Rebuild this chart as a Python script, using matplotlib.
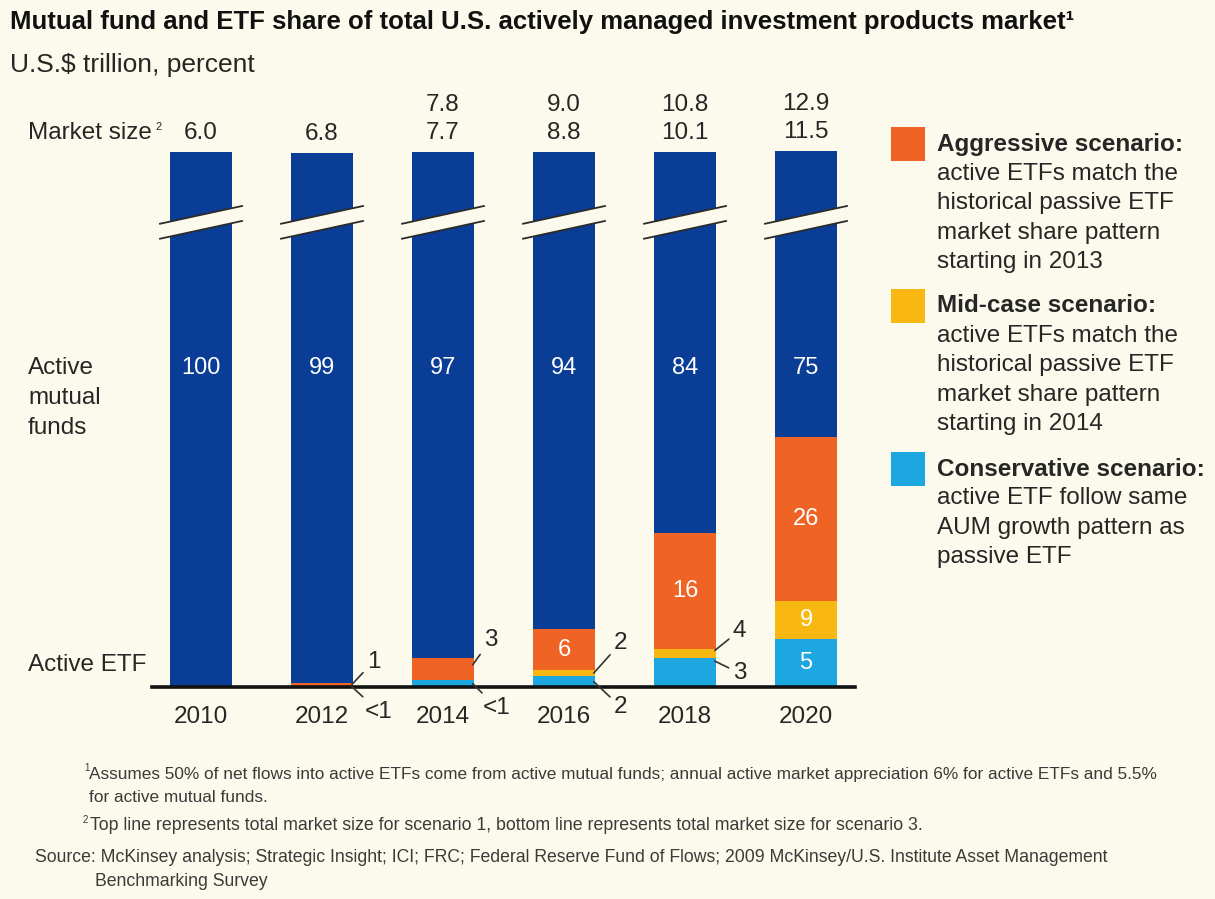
import matplotlib
matplotlib.use("Agg")
import matplotlib.pyplot as plt
import numpy as np
from matplotlib.patches import Polygon, Rectangle

# ──────────────────────────────────────────────────────────────
# Data (percent of market, U.S.$ trillion)
# ──────────────────────────────────────────────────────────────
years = ["2010", "2012", "2014", "2016", "2018", "2020"]
active_mf = [100, 99, 97, 94, 84, 75]

# ETF share per scenario, each bar drawn from zero
etf_aggressive = [0, 0.4, 3, 6, 16, 26]
etf_midcase = [0, 0, 0, 1.8, 4, 9]
etf_conservative = [0, 0.1, 0.7, 1.1, 3, 5]

aggressive_labels = ["", "1", "3", "6", "16", "26"]
midcase_labels = ["", "", "", "2", "4", "9"]
conservative_labels = ["", "<1", "<1", "2", "3", "5"]

market_size_s1 = [np.nan, np.nan, 7.8, 9.0, 10.8, 12.9]
market_size_s3 = [6.0, 6.8, 7.7, 8.8, 10.1, 11.5]

NAVY = "#0a3d95"
ORANGE = "#ef6424"
YELLOW = "#f9b712"
CYAN = "#1ca7e1"
BG = "#fcfaec"
INK = "#262626"

SANS = ["Liberation Sans", "DejaVu Sans"]
NARROW = ["Liberation Sans Narrow", "Liberation Sans", "DejaVu Sans"]

# broken axis: linear below BREAK, squeezed above
BREAK = 51.0
SQUEEZE = 0.096
PX_PER_UNIT = 9.6


def fwd(v):
    v = np.asarray(v, dtype=float)
    return np.where(v <= BREAK, v, BREAK + (v - BREAK) * SQUEEZE)


def inv(d):
    d = np.asarray(d, dtype=float)
    return np.where(d <= BREAK, d, BREAK + (d - BREAK) / SQUEEZE)


W, H = 1215, 899
fig = plt.figure(figsize=(W / 100, H / 100), dpi=100, facecolor=BG)

# overlay in pixel coordinates for titles, legend, notes
ov = fig.add_axes([0, 0, 1, 1])
ov.set_xlim(0, W)
ov.set_ylim(H, 0)
ov.axis("off")
ov.set_facecolor("none")

# main chart axes
base_px, top_px, left_px, right_px = 687, 100, 152, 855
ax = fig.add_axes([left_px / W, (H - base_px) / H,
                   (right_px - left_px) / W, (base_px - top_px) / H])
ax.set_facecolor("none")
ax.set_yscale("function", functions=(fwd, inv))
ax.set_xlim(-0.405, 5.405)
ax.set_ylim(0, float(inv((base_px - top_px) / PX_PER_UNIT)))

x = np.arange(len(years))
bw = 0.512
ax.bar(x, etf_aggressive, bw, color=ORANGE, zorder=2)
ax.bar(x, etf_midcase, bw, color=YELLOW, zorder=3)
ax.bar(x, etf_conservative, bw, color=CYAN, zorder=4)
ax.bar(x, active_mf, bw, bottom=etf_aggressive, color=NAVY, zorder=2)

for s in ["left", "right", "top"]:
    ax.spines[s].set_visible(False)
ax.spines["bottom"].set_linewidth(2.6)
ax.spines["bottom"].set_color("#111111")
ax.spines["bottom"].set_zorder(6)
ax.set_yticks([])
ax.set_xticks(x, years, fontsize=17.5, family=SANS, color=INK)
ax.tick_params(axis="x", length=0, pad=21.5)
plt.setp(ax.get_xticklabels(), va="center")

# break marks across the navy bars
band_c, band_h, slope = 48.4, 0.78, 2.73
ext = bw / 2 + 0.09
for xi in x:
    xs = np.array([xi - ext, xi + ext])
    up = band_c + band_h + slope * (xs - xi)
    lo = band_c - band_h + slope * (xs - xi)
    ax.add_patch(Polygon([[xs[0], lo[0]], [xs[1], lo[1]], [xs[1], up[1]], [xs[0], up[0]]],
                         closed=True, facecolor=BG, edgecolor="none", zorder=7))
    ax.plot(xs, up, color="#2b2b2b", lw=1.3, zorder=8, solid_capstyle="butt")
    ax.plot(xs, lo, color="#2b2b2b", lw=1.3, zorder=8, solid_capstyle="butt")

# active mutual fund shares
for xi, v in zip(x, active_mf):
    ax.text(xi, 33.2, str(v), ha="center", va="center", color="white",
            fontsize=17, family=SANS, zorder=9)

# market size above bars
tops = np.array(active_mf) + np.array(etf_aggressive)
for xi, t, s1, s3 in zip(x, tops, market_size_s1, market_size_s3):
    ax.annotate(f"{s3:.1f}", (xi, t), xytext=(0, 19), textcoords="offset pixels",
                ha="center", va="center", fontsize=17.5, family=SANS, color=INK,
                annotation_clip=False)
    if not np.isnan(s1):
        ax.annotate(f"{s1:.1f}", (xi, t), xytext=(0, 47), textcoords="offset pixels",
                    ha="center", va="center", fontsize=17.5, family=SANS, color=INK,
                    annotation_clip=False)

# scenario segment labels: inside the bar or with a leader line
# (scenario, bar) -> text offset in pixels, anchor position within the segment
callouts = {
    ("aggr", 1): (15, 23, 0.5), ("cons", 1): (13, -25, 0.5),
    ("aggr", 2): (11, 25, 0.7), ("cons", 2): (10, -24, 0.5),
    ("mid", 3): (20, 30, 0.5), ("cons", 3): (20, -25, 0.5),
    ("mid", 4): (18, 20, 0.8), ("cons", 4): (18, -12, 0.9),
}
scen = {
    "aggr": (etf_aggressive, aggressive_labels,
             np.maximum(etf_midcase, etf_conservative)),
    "mid": (etf_midcase, midcase_labels, np.array(etf_conservative)),
    "cons": (etf_conservative, conservative_labels, np.zeros(len(years))),
}
for key, (vals, labels, lower) in scen.items():
    for i, lab in enumerate(labels):
        if not lab:
            continue
        if (key, i) in callouts:
            dx, dy, frac = callouts[(key, i)]
            ya = lower[i] + frac * (vals[i] - lower[i])
            ax.annotate(lab, (i + bw / 2 - 0.01, ya), xytext=(dx, dy),
                        textcoords="offset pixels", ha="left", va="center",
                        fontsize=17.5, family=SANS, color=INK, zorder=9,
                        annotation_clip=False,
                        arrowprops=dict(arrowstyle="-", color="#333333", lw=1.2,
                                        shrinkA=1, shrinkB=0))
        else:
            ax.text(i, (vals[i] + lower[i]) / 2, lab, ha="center", va="center",
                    color="white", fontsize=17, family=SANS, zorder=9)

# titles
ov.text(10, 22, "Mutual fund and ETF share of total U.S. actively managed investment products market\u00b9",
        fontsize=18.5, fontweight="bold", family=NARROW, color="#111111", va="center")
ov.text(10, 65, "U.S.$ trillion, percent", fontsize=19, family=SANS, color=INK, va="center")

# row labels
ov.text(28, 133, "Market size", fontsize=17.5, family=SANS, color=INK, va="center")
ov.text(155, 127, "2", fontsize=8, family=SANS, color=INK, va="center")
for k, word in enumerate(["Active", "mutual", "funds"]):
    ov.text(28, 368 + 30 * k, word, fontsize=17.5, family=SANS, color=INK, va="center")
ov.text(28, 665, "Active ETF", fontsize=17.5, family=SANS, color=INK, va="center")

# legend
legend_items = [
    (ORANGE, 144, "Aggressive scenario:",
     ["active ETFs match the", "historical passive ETF", "market share pattern",
      "starting in 2013"]),
    (YELLOW, 306, "Mid-case scenario:",
     ["active ETFs match the", "historical passive ETF", "market share pattern",
      "starting in 2014"]),
    (CYAN, 469, "Conservative scenario:",
     ["active ETF follow same", "AUM growth pattern as", "passive ETF"]),
]
for col, yc, head, body in legend_items:
    ov.add_patch(Rectangle((891, yc - 17), 34, 34, facecolor=col, edgecolor="none"))
    ov.text(937, yc, head, fontsize=17.5, fontweight="bold", family=SANS,
            color=INK, va="center")
    for k, line in enumerate(body):
        ov.text(937, yc + 29.5 * (k + 1), line, fontsize=17.5, family=SANS,
                color=INK, va="center")

# footnotes
NOTE = "#3a3a3a"
ov.text(84, 768, "1", fontsize=7, family=NARROW, color=NOTE, va="center")
ov.text(89, 775, "Assumes 50% of net flows into active ETFs come from active mutual funds; "
        "annual active market appreciation 6% for active ETFs and 5.5%",
        fontsize=12.4, family=NARROW, color=NOTE, va="center")
ov.text(89, 798, "for active mutual funds.", fontsize=12.4, family=NARROW, color=NOTE, va="center")
ov.text(83, 820, "2", fontsize=7, family=NARROW, color=NOTE, va="center")
ov.text(90, 826, "Top line represents total market size for scenario 1, bottom line represents "
        "total market size for scenario 3.", fontsize=12.8, family=NARROW, color=NOTE, va="center")
ov.text(35, 858, "Source: McKinsey analysis; Strategic Insight; ICI; FRC; Federal Reserve Fund of Flows; "
        "2009 McKinsey/U.S. Institute Asset Management", fontsize=12.7, family=NARROW,
        color=NOTE, va="center")
ov.text(95, 881, "Benchmarking Survey", fontsize=12.7, family=NARROW, color=NOTE, va="center")

fig.savefig("out.png", dpi=100, facecolor=BG)
